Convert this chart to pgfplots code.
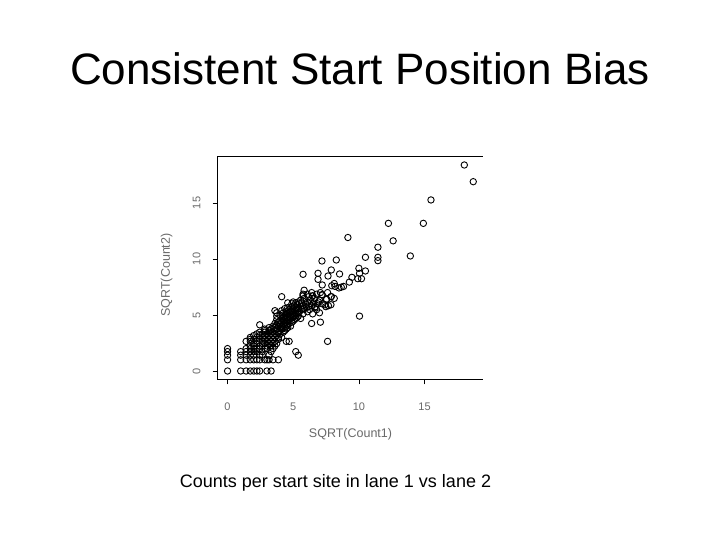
\documentclass[border=0pt]{standalone}
\usepackage{fontspec}
\setmainfont{Liberation Sans}
\usepackage{pgfplots}
\pgfplotsset{compat=1.18}
\definecolor{lblgray}{RGB}{105,105,105}
\begin{document}
\begin{tikzpicture}[x=1pt,y=1pt]
\fill[white] (0,0) rectangle (720,540);
\useasboundingbox (0,0) rectangle (720,540);
\node[anchor=base,font=\fontsize{44}{44}\selectfont] at (360,455) {Consistent Start Position Bias};
\node[anchor=base,font=\fontsize{18}{18}\selectfont] at (335.5,52.5) {Counts per start site in lane 1 vs lane 2};
\node[font=\fontsize{12.5}{12.5}\selectfont,text=lblgray] at (350.5,106) {SQRT(Count1)};
\node[font=\fontsize{12.5}{12.5}\selectfont,text=lblgray,rotate=90] at (166.7,265) {SQRT(Count2)};
\begin{axis}[
  name=ax,
  at={(217.7pt,160.7pt)}, anchor=south west,
  scale only axis, width=265pt, height=222.6pt,
  xmin=-0.75, xmax=19.43, ymin=-0.74, ymax=19.13,
  axis line style={draw=none},
  xtick={0,5,10,15}, ytick={0,5,10,15},
  xtick pos=left, ytick pos=left,
  tick align=outside, major tick length=5pt,
  tick style={black, line width=0.6pt},
  /pgf/number format/assume math mode=true,
  ticklabel style={font=\fontsize{11}{11}\selectfont, text=lblgray},
  xticklabel style={anchor=center, yshift=-22pt},
  yticklabel style={anchor=center, rotate=90, yshift=16pt},
  clip=false,
]
\addplot[only marks, mark=o, mark size=3.2pt, mark options={line width=0.9pt, black}] table[row sep=\\] {
x y \\
0 0 \\ 1 0 \\ 1.414 0 \\ 1.732 0 \\ 2 0 \\ 2.236 0 \\ 2.449 0 \\ 3 0 \\ 3.317 0 \\
0 1 \\ 1 1 \\ 1.414 1 \\ 1.732 1 \\ 2 1 \\ 2.236 1 \\ 2.449 1 \\ 2.828 1 \\ 3 1 \\ 3.162 1 \\ 3.464 1 \\ 3.873 1 \\
0 1.414 \\ 1 1.414 \\ 1.414 1.414 \\ 1.732 1.414 \\ 2 1.414 \\ 2.449 1.414 \\ 2.646 1.414 \\ 3.162 1.414 \\
0 1.732 \\ 1 1.732 \\ 1.414 1.732 \\ 1.732 1.732 \\ 2 1.732 \\ 2.236 1.732 \\ 2.646 1.732 \\ 3.317 1.732 \\ 5.196 1.732 \\
5.385 1.414 \\
0 2 \\ 1.414 2 \\ 1.732 2 \\ 2 2 \\ 2.236 2 \\ 2.449 2 \\ 2.828 2 \\ 3 2 \\ 3.464 2 \\
1.732 2.236 \\ 2 2.236 \\ 2.449 2.236 \\ 2.646 2.236 \\ 3 2.236 \\ 3.317 2.236 \\ 3.606 2.236 \\
2 2.449 \\ 2.236 2.449 \\ 2.646 2.449 \\ 2.828 2.449 \\ 3.162 2.449 \\ 3.464 2.449 \\ 3.742 2.449 \\
1.414 2.646 \\ 1.732 2.646 \\ 2.236 2.646 \\ 2.646 2.646 \\ 3 2.646 \\ 3.317 2.646 \\ 3.606 2.646 \\ 4.472 2.646 \\ 4.690 2.646 \\ 7.616 2.646 \\
1.732 2.828 \\ 2 2.828 \\ 2.449 2.828 \\ 2.828 2.828 \\ 3.162 2.828 \\ 3.464 2.828 \\ 3.873 2.828 \\
1.732 3 \\ 2.236 3 \\ 2.646 3 \\ 3 3 \\ 3.317 3 \\ 3.606 3 \\ 3.873 3 \\ 4.123 3 \\
2 3.162 \\ 2.449 3.162 \\ 2.828 3.162 \\ 3.162 3.162 \\ 3.464 3.162 \\ 3.742 3.162 \\
2.236 3.317 \\ 2.646 3.317 \\ 3 3.317 \\ 3.317 3.317 \\ 3.606 3.317 \\ 4 3.317 \\
2.449 3.464 \\ 2.828 3.464 \\ 3.162 3.464 \\ 3.464 3.464 \\ 3.873 3.464 \\ 4.243 3.464 \\
2.828 3.606 \\ 3.162 3.606 \\ 3.606 3.606 \\ 4 3.606 \\ 4.359 3.606 \\
2.828 3.742 \\ 3.317 3.742 \\ 3.742 3.742 \\ 4.123 3.742 \\ 4.472 3.742 \\
3.162 3.873 \\ 3.606 3.873 \\ 4 3.873 \\ 4.243 3.873 \\ 4.583 3.873 \\
3.464 4 \\ 3.873 4 \\ 4.123 4 \\ 4.472 4 \\ 4.796 4 \\
2.449 4.123 \\ 3.742 4.123 \\ 4.243 4.123 \\ 4.583 4.123 \\
3.606 4.243 \\ 4 4.243 \\ 4.359 4.243 \\ 4.690 4.243 \\ 6.403 4.243 \\ 7.071 4.359 \\
3.873 4.359 \\ 4.123 4.359 \\ 4.472 4.359 \\ 4.899 4.359 \\
4 4.472 \\ 4.243 4.472 \\ 4.583 4.472 \\ 5 4.472 \\
3.742 4.583 \\ 4.359 4.583 \\ 4.690 4.583 \\ 5.099 4.583 \\
4.123 4.690 \\ 4.472 4.690 \\ 4.796 4.690 \\ 5.196 4.690 \\ 5.568 4.690 \\
4.243 4.796 \\ 4.583 4.796 \\ 4.899 4.796 \\ 5.292 4.796 \\
3.742 4.899 \\ 4.359 4.899 \\ 4.690 4.899 \\ 5 4.899 \\ 5.385 4.899 \\ 10.05 4.899 \\
4 5 \\ 4.472 5 \\ 4.796 5 \\ 5.099 5 \\
4.583 5.099 \\ 4.899 5.099 \\ 5.196 5.099 \\ 5.745 5.099 \\ 6.481 5.099 \\ 7 5.196 \\
3.742 5.196 \\ 4.243 5.196 \\ 4.690 5.196 \\ 5.385 5.196 \\
4.472 5.292 \\ 4.899 5.292 \\ 5.477 5.292 \\ 6.083 5.292 \\
3.606 5.385 \\ 4.123 5.385 \\ 4.796 5.385 \\ 5.099 5.385 \\
4.690 5.477 \\ 5.196 5.477 \\ 5.657 5.477 \\ 6.245 5.477 \\ 6.782 5.477 \\
4.359 5.568 \\ 5 5.568 \\ 5.385 5.568 \\ 5.831 5.568 \\
4.583 5.657 \\ 5.292 5.657 \\ 6 5.657 \\ 6.633 5.657 \\
4.899 5.745 \\ 5.568 5.745 \\ 6.164 5.745 \\ 6.708 5.745 \\ 7.483 5.745 \\
5.099 5.831 \\ 5.745 5.831 \\ 6.403 5.831 \\ 7.681 5.831 \\
5.292 5.916 \\ 6 5.916 \\ 7.416 5.916 \\ 7.874 5.916 \\
4.899 6 \\ 5.477 6 \\ 6.245 6 \\ 6.856 6 \\ 7.211 6 \\
4.583 6.083 \\ 5.196 6.083 \\ 5.657 6.083 \\ 6.557 6.083 \\
5 6.164 \\ 5.385 6.164 \\ 6.083 6.164 \\ 6.928 6.164 \\
5.568 6.325 \\ 6.325 6.325 \\ 7 6.325 \\ 7.55 6.403 \\
5.831 6.481 \\ 6.633 6.481 \\ 8.124 6.481 \\
4.123 6.633 \\ 6.164 6.633 \\ 7.874 6.633 \\
5.745 6.708 \\ 6.481 6.708 \\ 7.211 6.782 \\
5.745 6.856 \\ 6.083 6.856 \\ 6.782 6.856 \\
6.403 7 \\ 7.071 7 \\ 7.616 7 \\
5.831 7.211 \\
7.937 7.616 \\ 8.185 7.55 \\ 8.485 7.416 \\ 8.660 7.483 \\ 8.832 7.55 \\ 7.211 7.681 \\ 8.124 7.81 \\ 9.274 7.937 \\
9.165 11.916 \\ 12.61 11.62 \\ 11.45 11.05 \\ 11.45 10.15 \\ 11.45 9.85 \\ 10.5 10.15 \\ 13.92 10.27 \\
7.19 9.82 \\ 8.28 9.91 \\ 7.9 9.02 \\ 10.0 9.17 \\ 8.53 8.66 \\ 10.5 8.93 \\ 10.05 8.72 \\
5.75 8.63 \\ 6.89 8.72 \\ 7.65 8.48 \\ 9.47 8.36 \\ 6.89 8.18 \\ 10.2 8.24 \\ 9.92 8.24 \\
6.46 6.7 \\ 7.19 6.82 \\ 7.9 6.64 \\ 7.52 6.4 \\
12.25 13.18 \\ 14.91 13.18 \\ 15.49 15.27 \\ 18.03 18.39 \\ 18.71 16.9 \\
};
\end{axis}
\draw[black, line width=0.8pt] (ax.north east) -- (ax.north west) -- (ax.south west) -- (ax.south east);
\end{tikzpicture}
\end{document}
